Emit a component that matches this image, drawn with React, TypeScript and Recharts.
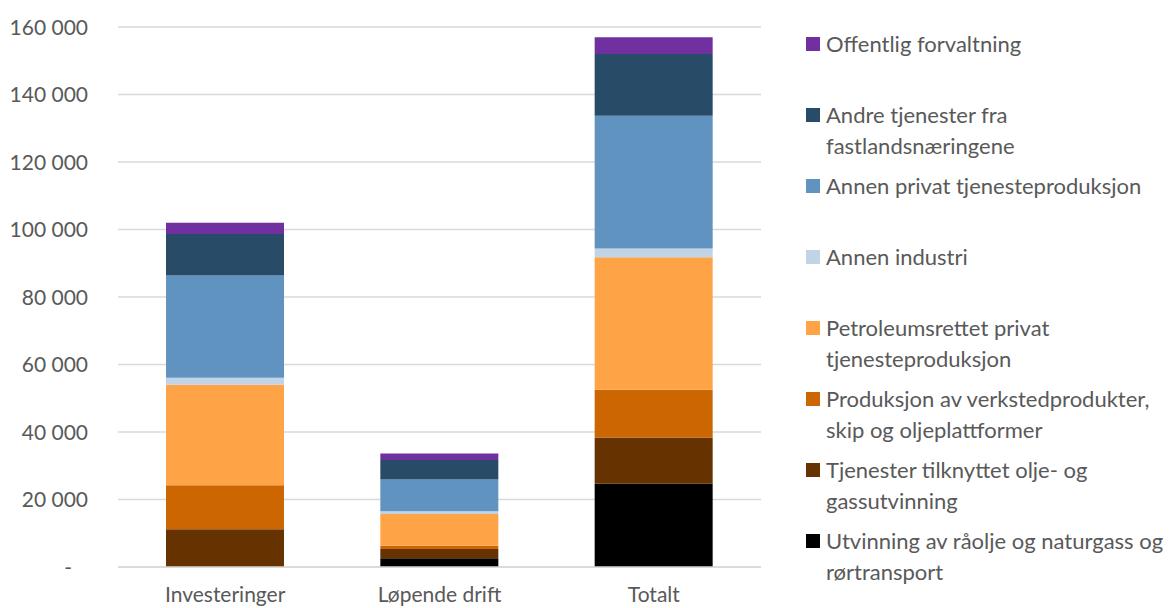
import React from 'react';
import { BarChart, Bar, XAxis, YAxis, CartesianGrid, Legend } from 'recharts';

const categories = ['Investeringer', 'Løpende drift', 'Totalt'];

const utvinning = [0, 2600, 24700];
const tjenesterOlje = [11200, 2700, 13700];
const verksted = [13000, 1000, 14100];
const petroleumsrettet = [29800, 9400, 39300];
const annenIndustri = [2100, 800, 2600];
const annenPrivat = [30300, 9400, 39300];
const andreTjenester = [12300, 5800, 18300];
const offentlig = [3300, 1900, 5000];

const yTicks = [0, 20000, 40000, 60000, 80000, 100000, 120000, 140000, 160000];

// bottom to top in the stack
const SERIES = [
  { key: 'utv', name: 'Utvinning av råolje og naturgass og rørtransport', color: '#000000', values: utvinning },
  { key: 'tjo', name: 'Tjenester tilknyttet olje- og gassutvinning', color: '#663300', values: tjenesterOlje },
  { key: 'ver', name: 'Produksjon av verkstedprodukter, skip og oljeplattformer', color: '#cc6600', values: verksted },
  { key: 'pet', name: 'Petroleumsrettet privat tjenesteproduksjon', color: '#ffa347', values: petroleumsrettet },
  { key: 'ind', name: 'Annen industri', color: '#c0d4e6', values: annenIndustri },
  { key: 'apr', name: 'Annen privat tjenesteproduksjon', color: '#6093bf', values: annenPrivat },
  { key: 'atj', name: 'Andre tjenester fra fastlandsnæringene', color: '#284b68', values: andreTjenester },
  { key: 'off', name: 'Offentlig forvaltning', color: '#7030a0', values: offentlig },
];

const data = categories.map((c, i) => {
  const row: Record<string, string | number> = { name: c };
  SERIES.forEach((s) => { row[s.key] = s.values[i]; });
  return row;
});

const FONT = 'Lato, "Open Sans", sans-serif';
const TEXT = '#595959';
const LEGEND_W = 370;

const fmt = (v: number) => (v === 0 ? '-' : v.toLocaleString('en-US').replace(/,/g, ' '));

const YTick = (props: any) => {
  const { x, y, payload } = props;
  const v = payload.value as number;
  return (
    <text x={v === 0 ? x - 16 : x} y={y} dy="0.36em" textAnchor="end" fill={TEXT} fontSize={21} fontFamily={FONT}>
      {fmt(v)}
    </text>
  );
};

const LegendBox = () => {
  const items = [...SERIES].reverse();
  return (
    <div style={{ position: 'relative', width: LEGEND_W, height: 560 }}>
      {items.map((s, i) => (
        <div key={s.key} style={{ position: 'absolute', top: i * 71, left: 0, display: 'flex', alignItems: 'flex-start' }}>
          <span style={{ width: 14, height: 14, background: s.color, marginTop: 9, marginRight: 6, flex: 'none' }} />
          <span style={{ width: 345, fontFamily: FONT, fontSize: 22, lineHeight: '31px', color: TEXT }}>{s.name}</span>
        </div>
      ))}
    </div>
  );
};

export default function App() {
  return (
    <div style={{ position: 'absolute', left: 0, top: 0, width: 1171, height: 608, background: '#fff' }}>
      <BarChart
        width={1171}
        height={608}
        data={data}
        margin={{ top: 27, right: 410 - LEGEND_W, bottom: 0, left: 0 }}
        barSize={118}
      >
        <CartesianGrid vertical={false} stroke="#d9d9d9" strokeWidth={1.5} />
        <XAxis
          dataKey="name"
          height={41}
          interval={0}
          tickLine={false}
          tickSize={0}
          tickMargin={20}
          axisLine={{ stroke: '#d9d9d9', strokeWidth: 1.5 }}
          tick={{ fill: TEXT, fontSize: 21, fontFamily: FONT }}
        />
        <YAxis
          width={118}
          domain={[0, 160000]}
          ticks={yTicks}
          tickLine={false}
          axisLine={false}
          tickSize={0}
          tickMargin={30}
          tick={<YTick />}
        />
        <Legend
          layout="vertical"
          verticalAlign="top"
          align="right"
          content={<LegendBox />}
          wrapperStyle={{ position: 'absolute', left: 806, top: 28, width: LEGEND_W }}
        />
        {SERIES.map((s) => (
          <Bar key={s.key} dataKey={s.key} name={s.name} stackId="a" fill={s.color} isAnimationActive={false} />
        ))}
      </BarChart>
    </div>
  );
}
